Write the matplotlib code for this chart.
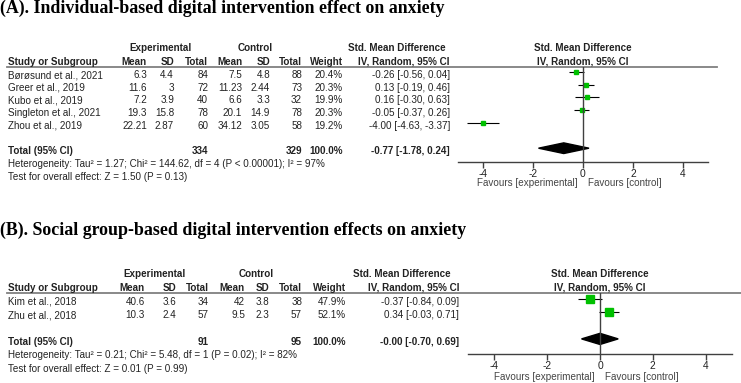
import numpy as np
import matplotlib
matplotlib.use("Agg")
import matplotlib.pyplot as plt
from matplotlib.patches import Polygon

# ---- panel A data ----
a_study = ["Børøsund et al., 2021", "Greer et al., 2019", "Kubo et al., 2019",
           "Singleton et al., 2021", "Zhou et al., 2019"]
a_mean_e = [6.3, 11.6, 7.2, 19.3, 22.21]
a_sd_e = [4.4, 3, 3.9, 15.8, 2.87]
a_n_e = [84, 72, 40, 78, 60]
a_mean_c = [7.5, 11.23, 6.6, 20.1, 34.12]
a_sd_c = [4.8, 2.44, 3.3, 14.9, 3.05]
a_n_c = [88, 73, 32, 78, 58]
a_weight = [20.4, 20.3, 19.9, 20.3, 19.2]
a_smd = [-0.26, 0.13, 0.16, -0.05, -4.00]
a_lo = [-0.56, -0.19, -0.30, -0.37, -4.63]
a_hi = [0.04, 0.46, 0.63, 0.26, -3.37]
a_total = (-0.77, -1.78, 0.24)
a_het = "Heterogeneity: Tau² = 1.27; Chi² = 144.62, df = 4 (P < 0.00001); I² = 97%"
a_test = "Test for overall effect: Z = 1.50 (P = 0.13)"

# ---- panel B data ----
b_study = ["Kim et al., 2018", "Zhu et al., 2018"]
b_mean_e = [40.6, 10.3]
b_sd_e = [3.6, 2.4]
b_n_e = [34, 57]
b_mean_c = [42, 9.5]
b_sd_c = [3.8, 2.3]
b_n_c = [38, 57]
b_weight = [47.9, 52.1]
b_smd = [-0.37, 0.34]
b_lo = [-0.84, -0.03]
b_hi = [0.09, 0.71]
b_total = (-0.0, -0.70, 0.69)
b_het = "Heterogeneity: Tau² = 0.21; Chi² = 5.48, df = 1 (P = 0.02); I² = 82%"
b_test = "Test for overall effect: Z = 0.01 (P = 0.99)"

ticks = [-4, -2, 0, 2, 4]

W, H = 741, 383
fig = plt.figure(figsize=(W / 100, H / 100), dpi=100)
bg = fig.add_axes([0, 0, 1, 1])
bg.set_xlim(0, W)
bg.set_ylim(H, 0)
bg.axis("off")

SANS = "Liberation Sans"
FS = 7.1
TXT = "#222222"


def t(x, y, s, ha="right", bold=False):
    bg.text(x, y, s, ha=ha, va="center", fontsize=FS, family=SANS,
            fontweight="bold" if bold else "normal", color=TXT)


def panel(title, title_y, hdr_y, line_y, line_end, row_y, row_dy, cols,
          centers, study, me, se, ne, mc, sc, nc, wt, smd, lo, hi, total,
          het, test, fx0, fx1, axis_y, fav_y):
    bg.text(0, title_y, title, ha="left", va="center", fontsize=12.9,
            family="Liberation Serif", fontweight="bold", color="black")
    # header
    t(centers[0], hdr_y, "Experimental", ha="center", bold=True)
    t(centers[1], hdr_y, "Control", ha="center", bold=True)
    t(centers[2], hdr_y, "Std. Mean Difference", ha="center", bold=True)
    h2 = hdr_y + 14
    t(8, h2, "Study or Subgroup", ha="left", bold=True)
    for x, s in zip(cols[:-1], ["Mean", "SD", "Total", "Mean", "SD", "Total", "Weight"]):
        t(x, h2, s, bold=True)
    t(cols[-1], h2, "IV, Random, 95% CI", bold=True)
    bg.plot([7, line_end], [line_y, line_y], color="#808080", lw=1.3)
    # rows
    for i in range(len(study)):
        y = row_y + i * row_dy
        t(8, y, study[i], ha="left")
        vals = [f"{me[i]:g}", f"{se[i]:g}", f"{ne[i]}", f"{mc[i]:g}",
                f"{sc[i]:g}", f"{nc[i]}", f"{wt[i]:.1f}%",
                f"{smd[i]:.2f} [{lo[i]:.2f}, {hi[i]:.2f}]"]
        for x, s in zip(cols, vals):
            t(x, y, s)
    ty = row_y + (len(study) + 1) * row_dy
    t(8, ty, "Total (95% CI)", ha="left", bold=True)
    t(cols[2], ty, f"{sum(ne)}", bold=True)
    t(cols[5], ty, f"{sum(nc)}", bold=True)
    t(cols[6], ty, "100.0%", bold=True)
    t(cols[7], ty, f"{total[0]:.2f} [{total[1]:.2f}, {total[2]:.2f}]", bold=True)
    t(8, ty + row_dy, het, ha="left")
    t(8, ty + 2 * row_dy, test, ha="left")

    # forest plot axes: x -5..5 spans fx0..fx1 px, y in row units
    top = line_y
    span = axis_y - top
    ax = fig.add_axes([fx0 / W, 1 - axis_y / H, (fx1 - fx0) / W, span / H])
    ax.patch.set_alpha(0)
    ax.set_xlim(-5, 5)
    off = row_y - 3 - top
    ax.set_ylim((axis_y - row_y + 3) / row_dy, -off / row_dy)
    ypos = np.arange(len(study))
    ax.hlines(ypos, lo, hi, color="black", lw=0.8)
    for y, m, w in zip(ypos, smd, wt):
        ax.plot(m, y, marker="s", ms=0.74 * np.sqrt(w), color="#00c000",
                mec="#00c000", ls="none")
    yd = len(study) + 1
    dh = 0.42
    ax.add_patch(Polygon([(total[1], yd), (total[0], yd - dh), (total[2], yd),
                          (total[0], yd + dh)], closed=True, color="black"))
    ax.axvline(0, color="#404040", lw=1.0)
    for s in ["top", "left", "right"]:
        ax.spines[s].set_visible(False)
    ax.spines["bottom"].set_color("#404040")
    ax.spines["bottom"].set_linewidth(1.0)
    ax.set_yticks([])
    ax.set_xticks(ticks)
    ax.set_xticklabels([f"{v}" for v in ticks])
    ax.tick_params(axis="x", length=4, width=1, color="#404040", pad=1,
                   labelsize=FS + 0.3, labelcolor=TXT)
    for lab in ax.get_xticklabels():
        lab.set_family(SANS)
    tr = ax.get_xaxis_transform()
    fy = -(fav_y - axis_y) / span
    ax.text(-0.2, fy, "Favours [experimental]", transform=tr, ha="right",
            va="center", fontsize=FS, family=SANS, color="#444444")
    ax.text(0.2, fy, "Favours [control]", transform=tr, ha="left",
            va="center", fontsize=FS, family=SANS, color="#444444")
    ax.text(0, (top - hdr_y) / span + 1, "Std. Mean Difference", transform=tr,
            ha="center", va="center", fontsize=FS, family=SANS,
            fontweight="bold", color=TXT)
    ax.text(0, (top - h2) / span + 1, "IV, Random, 95% CI", transform=tr,
            ha="center", va="center", fontsize=FS, family=SANS,
            fontweight="bold", color=TXT)


panel("(A). Individual-based digital intervention effect on anxiety", 8, 48, 67, 717,
      75, 12.7, [147, 174, 208, 242, 270, 302, 343, 450], [161, 255, 397],
      a_study, a_mean_e, a_sd_e, a_n_e, a_mean_c, a_sd_c, a_n_c, a_weight,
      a_smd, a_lo, a_hi, a_total, a_het, a_test, 458, 708, 162, 183)

panel("(B). Social group-based digital intervention effects on anxiety", 230, 274, 293, 741,
      302, 13.3, [145, 176, 209, 245, 269, 302, 346, 459], [155, 256, 402],
      b_study, b_mean_e, b_sd_e, b_n_e, b_mean_c, b_sd_c, b_n_c, b_weight,
      b_smd, b_lo, b_hi, b_total, b_het, b_test, 468, 732, 354, 377)

fig.savefig("out.png", dpi=100)
